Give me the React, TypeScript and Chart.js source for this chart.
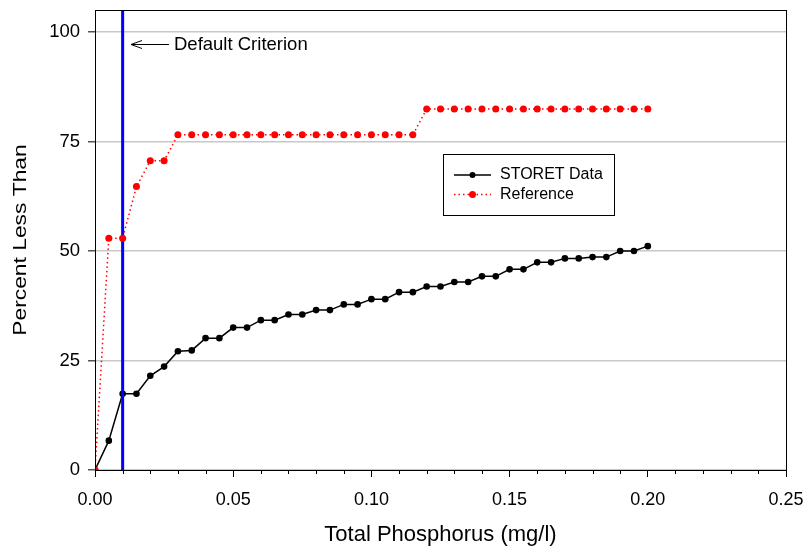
import React, { useEffect, useRef } from "react";
import Chart from "chart.js/auto";

const xValues = [
  0, 0.005, 0.01, 0.015, 0.02, 0.025, 0.03, 0.035, 0.04, 0.045, 0.05, 0.055, 0.06, 0.065,
  0.07, 0.075, 0.08, 0.085, 0.09, 0.095, 0.1, 0.105, 0.11, 0.115, 0.12, 0.125, 0.13, 0.135,
  0.14, 0.145, 0.15, 0.155, 0.16, 0.165, 0.17, 0.175, 0.18, 0.185, 0.19, 0.195, 0.2,
];
const storetValues = [
  0, 6.7, 17.4, 17.4, 21.5, 23.6, 27.1, 27.3, 30.1, 30.1, 32.5, 32.5, 34.2, 34.2,
  35.5, 35.5, 36.5, 36.5, 37.8, 37.8, 39.0, 39.0, 40.6, 40.6, 41.9, 41.9, 42.9, 42.9,
  44.2, 44.2, 45.8, 45.8, 47.4, 47.4, 48.3, 48.3, 48.6, 48.6, 50.0, 50.0, 51.1,
];
const referenceValues = [
  0, 52.9, 52.9, 64.7, 70.6, 70.6, 76.5, 76.5, 76.5, 76.5, 76.5, 76.5, 76.5, 76.5,
  76.5, 76.5, 76.5, 76.5, 76.5, 76.5, 76.5, 76.5, 76.5, 76.5, 82.4, 82.4, 82.4, 82.4,
  82.4, 82.4, 82.4, 82.4, 82.4, 82.4, 82.4, 82.4, 82.4, 82.4, 82.4, 82.4, 82.4,
];
const criterionX = 0.01;
const criterionYRange = [0, 105];
const xTickValues = [0, 0.05, 0.1, 0.15, 0.2, 0.25];
const xMinorTickValues = [0.01, 0.02, 0.03, 0.04, 0.06, 0.07, 0.08, 0.09, 0.11, 0.12, 0.13, 0.14, 0.16, 0.17, 0.18, 0.19, 0.21, 0.22, 0.23, 0.24];
const yTickValues = [0, 25, 50, 75, 100];
const seriesNames = ["STORET Data", "Reference"];
const annotationText = "Default Criterion";
const xTitle = "Total Phosphorus (mg/l)";
const yTitle = "Percent Less Than";

const FONT = '"Liberation Sans", Arial, Helvetica, sans-serif';

const decorPlugin = {
  id: "decor",
  afterDatasetsDraw(chart: any) {
    const { ctx, chartArea } = chart;
    const xs = chart.scales.x;
    ctx.save();
    ctx.strokeStyle = "#000";
    ctx.lineWidth = 1;
    ctx.strokeRect(chartArea.left + 0.5, chartArea.top + 0.5, chartArea.right - chartArea.left, chartArea.bottom - chartArea.top);
    ctx.beginPath();
    xMinorTickValues.forEach((v) => {
      const px = Math.round(xs.getPixelForValue(v)) + 0.5;
      ctx.moveTo(px, chartArea.bottom);
      ctx.lineTo(px, chartArea.bottom + 4);
    });
    ctx.stroke();
    ctx.restore();
  },
  afterDraw(chart: any) {
    const { ctx, chartArea } = chart;
    ctx.save();
    ctx.fillStyle = "#000";
    ctx.strokeStyle = "#000";
    // axis titles
    ctx.font = `22px ${FONT}`;
    ctx.textAlign = "center";
    ctx.textBaseline = "middle";
    ctx.fillText(xTitle, (chartArea.left + chartArea.right) / 2, 535);
    ctx.save();
    ctx.font = `19px ${FONT}`;
    ctx.textBaseline = "alphabetic";
    ctx.translate(26, (chartArea.top + chartArea.bottom) / 2);
    ctx.rotate(-Math.PI / 2);
    ctx.scale(1.2, 1);
    ctx.fillText(yTitle, 0, 0);
    ctx.restore();

    // annotation
    const ay = 44.5;
    ctx.lineWidth = 1;
    ctx.beginPath();
    ctx.moveTo(131, ay);
    ctx.lineTo(169, ay);
    ctx.moveTo(142, ay - 4);
    ctx.lineTo(131, ay);
    ctx.lineTo(142, ay + 4);
    ctx.stroke();
    ctx.font = `18.5px ${FONT}`;
    ctx.textAlign = "left";
    ctx.textBaseline = "alphabetic";
    ctx.fillText(annotationText, 174, 49.5);

    // legend
    ctx.lineWidth = 1;
    ctx.strokeRect(443.5, 154.5, 171, 61);
    ctx.font = `16px ${FONT}`;
    ctx.textBaseline = "middle";
    ctx.beginPath();
    ctx.moveTo(454, 175);
    ctx.lineTo(491, 175);
    ctx.lineWidth = 1.5;
    ctx.stroke();
    ctx.beginPath();
    ctx.arc(472.5, 175, 3, 0, Math.PI * 2);
    ctx.fill();
    ctx.fillText(seriesNames[0], 500, 175);
    ctx.strokeStyle = "#ff0000";
    ctx.fillStyle = "#ff0000";
    ctx.setLineDash([1.5, 3]);
    ctx.beginPath();
    ctx.moveTo(454, 194.5);
    ctx.lineTo(491, 194.5);
    ctx.stroke();
    ctx.setLineDash([]);
    ctx.beginPath();
    ctx.arc(472.5, 194.5, 3.5, 0, Math.PI * 2);
    ctx.fill();
    ctx.fillStyle = "#000";
    ctx.fillText(seriesNames[1], 500, 194.5);
    ctx.restore();
  },
};

export default function App() {
  const ref = useRef<HTMLCanvasElement | null>(null);
  useEffect(() => {
    document.body.style.margin = "0";
    const canvas = ref.current;
    if (!canvas) return;
    const chart = new Chart(canvas, {
      type: "scatter",
      data: {
        datasets: [
          {
            label: seriesNames[1],
            data: xValues.map((x, i) => ({ x, y: referenceValues[i] })),
            showLine: true,
            borderColor: "#ff0000",
            borderWidth: 1.5,
            borderDash: [1.5, 3],
            pointRadius: 3.5,
            pointBorderWidth: 0,
            pointBackgroundColor: "#ff0000",
            order: 0,
          },
          {
            label: "criterion",
            data: criterionYRange.map((y) => ({ x: criterionX, y })),
            showLine: true,
            borderColor: "#0000ff",
            borderWidth: 3,
            pointRadius: 0,
            order: 1,
          },
          {
            label: seriesNames[0],
            data: xValues.map((x, i) => ({ x, y: storetValues[i] })),
            showLine: true,
            borderColor: "#000000",
            borderWidth: 1.5,
            pointRadius: 3.3,
            pointBorderWidth: 0,
            pointBackgroundColor: "#000000",
            order: 2,
          },
        ],
      },
      options: {
        animation: false,
        responsive: false,
        layout: { padding: { top: 10, right: 19, left: 0, bottom: 0 } },
        plugins: { legend: { display: false }, tooltip: { enabled: false } },
        scales: {
          x: {
            type: "linear",
            min: 0,
            max: 0.25,
            afterBuildTicks: (s: any) => {
              s.ticks = xTickValues.map((v) => ({ value: v }));
            },
            afterFit: (s: any) => {
              s.height = 80;
              s.paddingLeft = 0;
              s.paddingRight = 0;
              s.paddingTop = 0;
              s.paddingBottom = 0;
            },
            ticks: {
              font: { family: FONT, size: 18 },
              color: "#000",
              padding: 12,
              maxRotation: 0,
              callback: (v: any) => Number(v).toFixed(2),
            },
            grid: { drawOnChartArea: false, tickLength: 7, tickColor: "#000", color: "#000" },
            border: { display: true, color: "#000" },
          },
          y: {
            type: "linear",
            min: 0,
            max: 105,
            afterBuildTicks: (s: any) => {
              s.ticks = yTickValues.map((v) => ({ value: v }));
            },
            afterFit: (s: any) => {
              s.width = 95;
              s.paddingLeft = 0;
              s.paddingRight = 0;
              s.paddingTop = 0;
              s.paddingBottom = 0;
            },
            ticks: {
              font: { family: FONT, size: 18.5 },
              color: "#000",
              padding: 8,
            },
            grid: { color: "#c8c8c8", lineWidth: 1.5, tickLength: 7, tickColor: "#555" },
            border: { display: true, color: "#000" },
          },
        },
      },
      plugins: [decorPlugin],
    });
    return () => chart.destroy();
  }, []);
  return (
    <div style={{ position: "absolute", left: 0, top: 0, width: 805, height: 550, background: "#fff" }}>
      <canvas ref={ref} width={805} height={550} style={{ width: 805, height: 550 }} />
    </div>
  );
}
